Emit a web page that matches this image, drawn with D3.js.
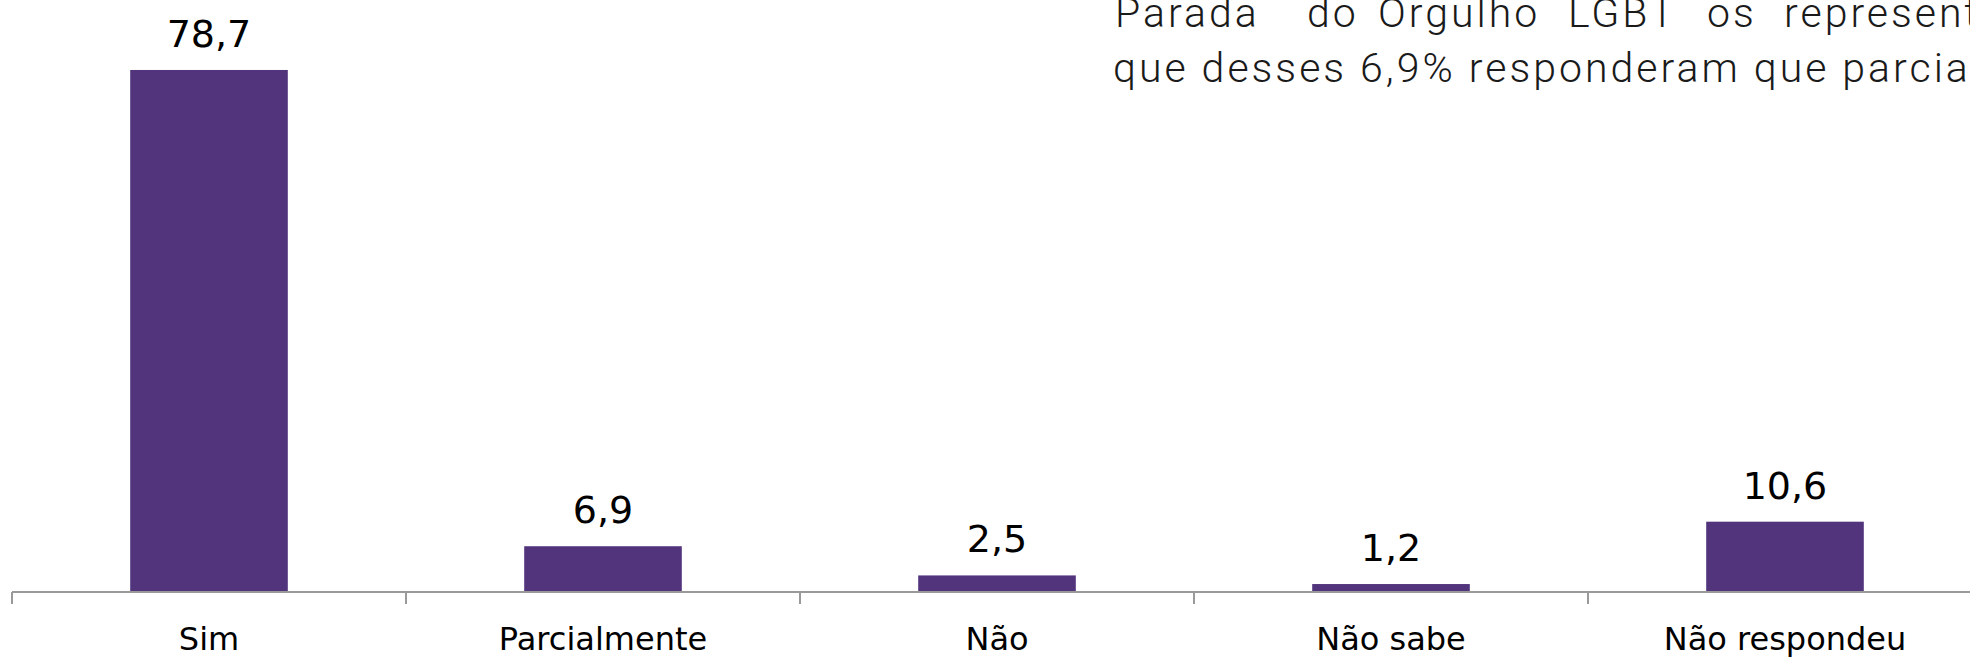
<!DOCTYPE html>
<html>
<head>
<meta charset="utf-8">
<script src="https://cdn.jsdelivr.net/npm/d3@7"></script>
<style>
  html, body { margin: 0; padding: 0; background: #fff; overflow: hidden; }
</style>
</head>
<body>
<div id="chart"></div>
<script>
// data
var categories = ["Sim", "Parcialmente", "Não", "Não sabe", "Não respondeu"];
var values = [78.7, 6.9, 2.5, 1.2, 10.6];
var valueLabels = ["78,7", "6,9", "2,5", "1,2", "10,6"];

// text block at the top right (cut off by the slide edge)
var line1Words = ["Parada", "do", "Orgulho", "LGBT", "os", "representantes"];
var line1X = [1115, 1307, 1378, 1568, 1707, 1784];
var line2Text = "que desses 6,9% responderam que parcialmente";

var W = 1970, H = 660;

var svg = d3.select("#chart")
  .append("svg")
  .attr("width", W)
  .attr("height", H);

var x = d3.scaleBand()
  .domain(categories)
  .range([12, 1982])
  .paddingInner(0.6)
  .paddingOuter(0.3);

var y = d3.scaleLinear()
  .domain([0, 89.25])
  .range([592, 0]);

var step = x.step();

// bars
svg.selectAll("rect.bar")
  .data(values)
  .enter().append("rect")
  .attr("class", "bar")
  .attr("x", function(d, i) { return x(categories[i]); })
  .attr("y", function(d) { return y(d); })
  .attr("width", x.bandwidth())
  .attr("height", function(d) { return y(0) - y(d); })
  .attr("fill", "#52347c");

// axis line + ticks at band boundaries
svg.append("line")
  .attr("x1", x.range()[0]).attr("x2", x.range()[1])
  .attr("y1", y(0)).attr("y2", y(0))
  .attr("stroke", "#9a9a9a")
  .attr("stroke-width", 2);

var tickX = d3.range(categories.length + 1).map(function(i) { return x.range()[0] + i * step; });
svg.selectAll("line.tick")
  .data(tickX)
  .enter().append("line")
  .attr("class", "tick")
  .attr("x1", function(d) { return d; }).attr("x2", function(d) { return d; })
  .attr("y1", y(0)).attr("y2", y(0) + 12)
  .attr("stroke", "#9a9a9a")
  .attr("stroke-width", 2);

// value labels
svg.selectAll("text.val")
  .data(values)
  .enter().append("text")
  .attr("class", "val")
  .attr("x", function(d, i) { return x(categories[i]) + x.bandwidth() / 2; })
  .attr("y", function(d) { return y(d) - 23; })
  .attr("text-anchor", "middle")
  .style("font-family", "'DejaVu Sans', sans-serif")
  .style("font-size", "38px")
  .attr("fill", "#000")
  .text(function(d, i) { return valueLabels[i]; });

// category labels
svg.selectAll("text.cat")
  .data(categories)
  .enter().append("text")
  .attr("class", "cat")
  .attr("x", function(d) { return x(d) + x.bandwidth() / 2; })
  .attr("y", 650)
  .attr("text-anchor", "middle")
  .style("font-family", "'DejaVu Sans', sans-serif")
  .style("font-size", "32px")
  .attr("fill", "#000")
  .text(function(d) { return d; });

// paragraph text
svg.selectAll("text.l1")
  .data(line1Words)
  .enter().append("text")
  .attr("class", "l1")
  .attr("x", function(d, i) { return line1X[i]; })
  .attr("y", 27)
  .style("font-family", "Roboto, sans-serif")
  .style("font-weight", 300)
  .style("font-size", "41px")
  .style("letter-spacing", "3px")
  .attr("fill", "#1a1a1a")
  .text(function(d) { return d; });

svg.append("text")
  .attr("x", 1113)
  .attr("y", 82)
  .style("font-family", "Roboto, sans-serif")
  .style("font-weight", 300)
  .style("font-size", "41px")
  .style("letter-spacing", "3px")
  .attr("fill", "#1a1a1a")
  .text(line2Text);
</script>
</body>
</html>
